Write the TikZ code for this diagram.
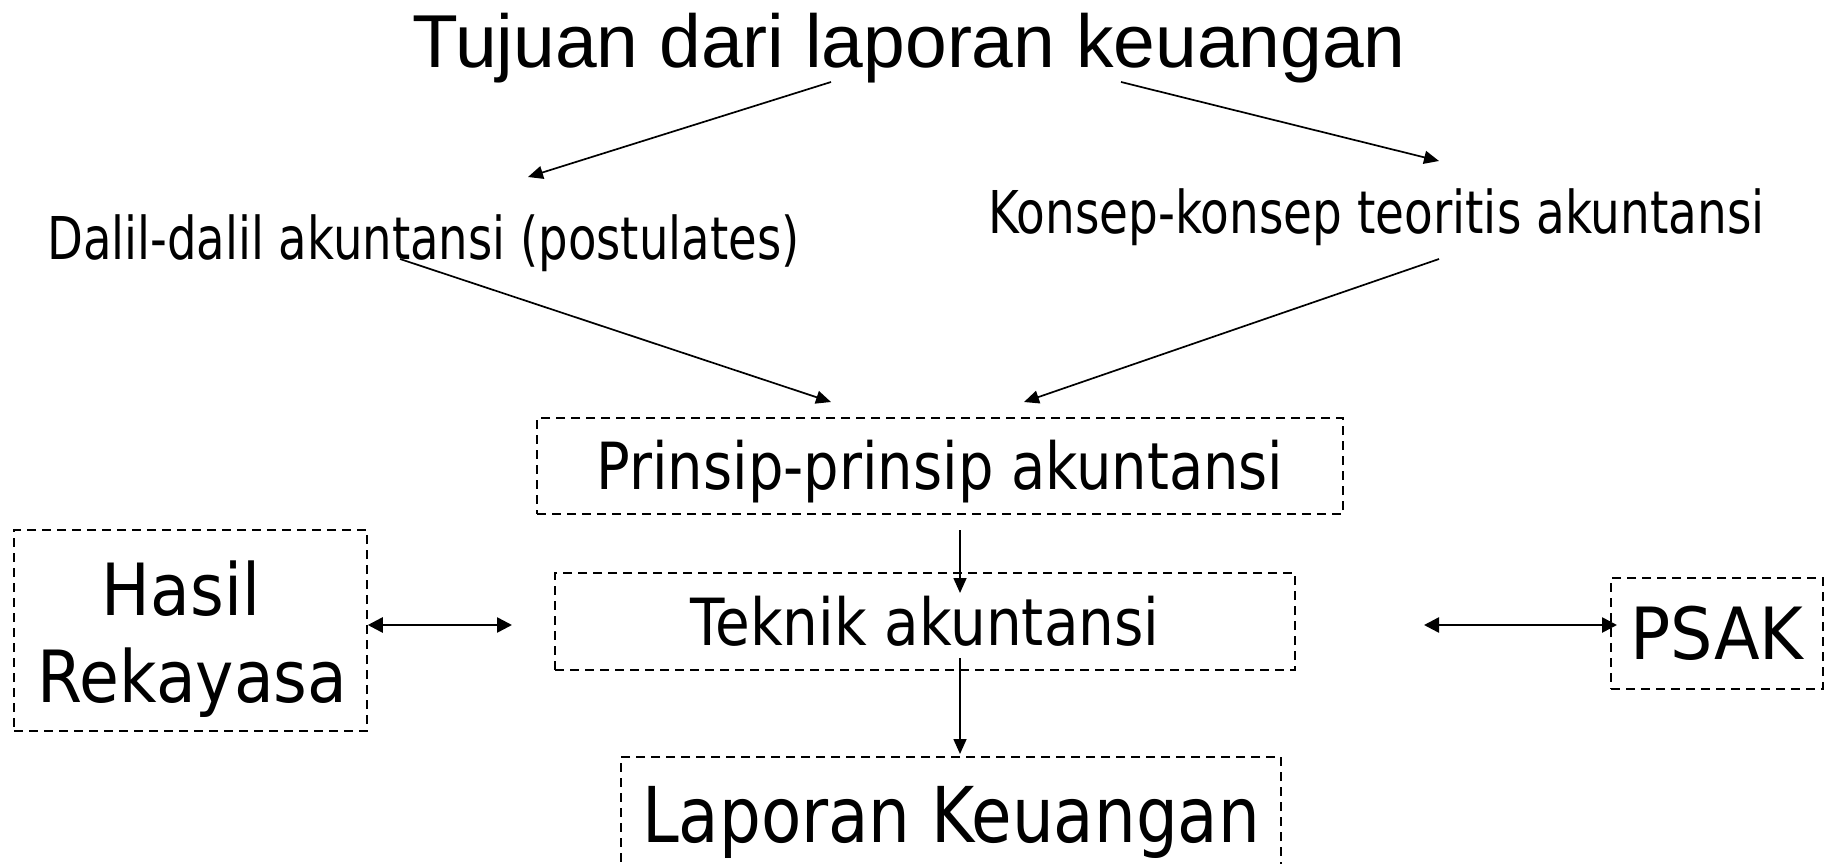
\documentclass[tikz,border=0pt]{standalone}
\usepackage{fontspec}
\setmainfont{Liberation Sans}
\newfontfamily\tah[FakeStretch=0.9]{DejaVu Sans}
\usetikzlibrary{arrows.meta}
\tikzset{
  arr/.style={line width=1.7pt,-{Triangle[length=15pt,width=13pt]}},
  darr/.style={line width=2.6pt,{Triangle[length=15pt,width=15pt]}-{Triangle[length=15pt,width=15pt]}},
  dbox/.style={draw,line width=1.5pt,dash pattern=on 9pt off 6pt,inner sep=0pt,align=center},
  lbl/.style={inner sep=0pt},
}
\begin{document}
\begin{tikzpicture}[x=1pt,y=-1pt]
\useasboundingbox[fill=white] (0,0) rectangle (1827,864);
\node[lbl,anchor=base,font=\fontsize{75}{80}\selectfont] (title) at (909,67.6) {Tujuan dari laporan keuangan};
\node[lbl,anchor=base west,font=\tah\fontsize{59}{64}\selectfont] (dalil) at (47,259) {\scalebox{0.877}[1]{Dalil-dalil akuntansi (postulates)}};
\node[lbl,anchor=base west,font=\tah\fontsize{59}{64}\selectfont] (konsep) at (988,233) {\scalebox{0.884}[1]{Konsep-konsep teoritis akuntansi}};
\node[dbox,minimum width=806pt,minimum height=96pt,text height=47pt,text depth=0pt,font=\tah\fontsize{65}{70}\selectfont] (prinsip) at (940,466) {\scalebox{0.956}[1]{Prinsip-prinsip akuntansi}};
\node[dbox,minimum width=740pt,minimum height=97pt,text height=47pt,text depth=0pt,font=\tah\fontsize{65}{70}\selectfont] (teknik) at (925,621.5) {\scalebox{0.964}[1]{Teknik akuntansi}};
\node[dbox,minimum width=660pt,minimum height=114pt,text height=56pt,text depth=0pt,font=\tah\fontsize{77}{82}\selectfont] (laporan) at (951,814) {\scalebox{0.951}[1]{Laporan Keuangan}};
\node[dbox,minimum width=353pt,minimum height=201pt,text height=143pt,text depth=0pt,font=\tah\fontsize{72}{87}\selectfont] (hasil) at (190.5,630.5) {Hasil\hspace*{19pt}\\\hspace*{4pt}Rekayasa};
\node[dbox,minimum width=212pt,minimum height=111pt,text height=52pt,text depth=0pt,font=\tah\fontsize{72}{77}\selectfont] (psak) at (1717,633.5) {\scalebox{1.03}[1]{PSAK}};
\draw[arr] ([xshift=-78pt,yshift=-14.4pt]title.base) -- ([xshift=481pt,yshift=82pt]dalil.base west);
\draw[arr] ([xshift=212pt,yshift=-14.4pt]title.base) -- ([xshift=451pt,yshift=72pt]konsep.base west);
\draw[arr] ([xshift=353pt]dalil.base west) -- ([xshift=-109pt,yshift=64pt]prinsip.center);
\draw[arr] ([xshift=451pt,yshift=-26pt]konsep.base west) -- ([xshift=84pt,yshift=64pt]prinsip.center);
\draw[arr] ([xshift=20pt,yshift=-64pt]prinsip.center) -- ([xshift=35pt,yshift=28.5pt]teknik.center);
\draw[arr] ([xshift=35pt,yshift=-36.5pt]teknik.center) -- ([xshift=9pt,yshift=60pt]laporan.center);
\draw[darr] ([yshift=5.5pt]hasil.east) -- ([xshift=-413pt,yshift=-3.5pt]teknik.center);
\draw[darr] ([xshift=499pt,yshift=-3.5pt]teknik.center) -- ([xshift=-100pt,yshift=8.5pt]psak.center);
\end{tikzpicture}
\end{document}
